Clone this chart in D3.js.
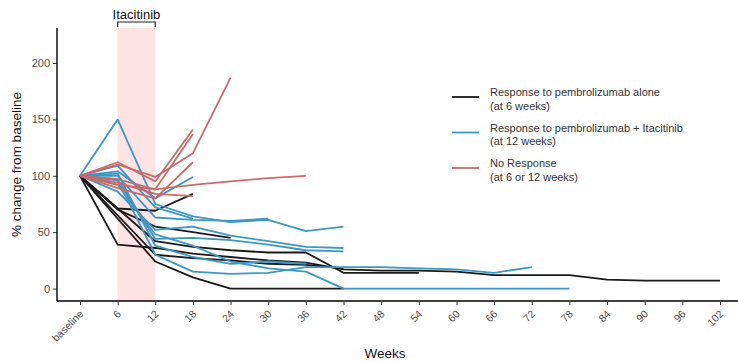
<!DOCTYPE html>
<html>
<head>
<meta charset="utf-8">
<script src="https://cdn.jsdelivr.net/npm/d3@7"></script>
<style>
  body { margin: 0; background: #fff; }
  svg { font-family: "Liberation Sans", Arial, sans-serif; }
</style>
</head>
<body>
<svg id="chart" width="738" height="362"></svg>
<script>
// weeks on the x axis, one tick every 6 weeks
const weekTicks = d3.range(0, 103, 6);
const weekLabels = weekTicks.map(w => w === 0 ? 'baseline' : String(w));
const yTicks = [0, 50, 100, 150, 200];

// one array per patient: [week, % of baseline]
const pembroAlone = [
  [[0,100],[6,71],[12,69],[18,84]],
  [[0,100],[6,70],[12,55],[18,50],[24,45]],
  [[0,100],[12,42],[18,37],[24,34],[30,32],[36,32],[42,14],[48,14],[54,14]],
  [[0,100],[6,39],[12,36],[18,31],[24,28],[30,25],[36,23],[42,17],[48,16],[54,16],[60,15],[66,12],[72,12],[78,12],[84,8],[90,7],[96,7],[102,7]],
  [[0,100],[12,24],[18,10],[24,0],[30,0],[36,0],[42,0]],
  [[0,100],[12,30],[18,27],[24,25],[30,22],[36,21],[42,18]]
];

const pembroIta = [
  [[0,100],[6,150],[12,75],[18,64],[24,59],[30,61],[36,51],[42,55]],
  [[0,100],[6,104],[12,80],[18,99]],
  [[0,100],[6,96],[12,30],[18,15],[24,13],[30,14],[36,19],[42,19],[48,19],[54,18],[60,17],[66,14],[72,19]],
  [[0,100],[6,92],[12,48],[18,38],[24,24],[30,18],[36,15],[42,0],[48,0],[54,0],[60,0],[66,0],[72,0],[78,0]],
  [[0,100],[6,86],[12,52],[18,55],[24,47],[30,42],[36,37],[42,36]],
  [[0,100],[6,97],[12,44],[18,45],[24,43],[30,39],[36,34],[42,33]],
  [[0,100],[6,100],[12,63],[18,61],[24,60],[30,62]],
  [[0,100],[6,102],[12,38],[18,28],[24,22],[30,24],[36,22]],
  [[0,100],[6,109],[12,72],[18,62]]
];

const noResponse = [
  [[0,100],[6,110],[12,99],[18,120],[24,187]],
  [[0,100],[6,112],[12,95],[18,141]],
  [[0,100],[6,97],[12,88],[18,137]],
  [[0,100],[6,92],[12,88],[18,92],[24,95],[30,98],[36,100]],
  [[0,100],[6,94],[12,84],[18,82]],
  [[0,100],[6,89],[12,80],[18,112]]
];

const groups = [
  { name: 'Response to pembrolizumab alone', sub: '(at 6 weeks)', color: '#1a1a1a', data: pembroAlone },
  { name: 'Response to pembrolizumab + Itacitinib', sub: '(at 12 weeks)', color: '#3b97c4', data: pembroIta },
  { name: 'No Response', sub: '(at 6 or 12 weeks)', color: '#c96b6b', data: noResponse }
];

const svg = d3.select('#chart');
const plotLeft = 57, plotRight = 738, plotTop = 28, plotBottom = 301;

const x = d3.scaleLinear().domain([0, 102]).range([80, 720]);
const y = d3.scaleLinear().domain([-11, 231]).range([plotBottom, plotTop]);

// itacitinib window
svg.append('rect')
  .attr('x', x(6)).attr('y', plotTop)
  .attr('width', x(12) - x(6)).attr('height', plotBottom - plotTop)
  .attr('fill', '#fde3e3');

svg.append('path')
  .attr('d', `M${x(6)},27V22H${x(12)}V27`)
  .attr('fill', 'none').attr('stroke', '#222').attr('stroke-width', 1.2);
svg.append('text')
  .attr('x', (x(6) + x(12)) / 2).attr('y', 19)
  .attr('text-anchor', 'middle').attr('font-size', 13).attr('fill', '#111')
  .text('Itacitinib');

// patient lines
const line = d3.line().x(d => x(d[0])).y(d => y(d[1]));
groups.forEach(g => {
  svg.append('g').selectAll('path')
    .data(g.data)
    .enter()
    .append('path')
    .attr('d', line)
    .attr('fill', 'none')
    .attr('stroke', g.color)
    .attr('stroke-width', 1.8)
    .attr('stroke-linejoin', 'round');
});

// axes
const xAxis = svg.append('g')
  .attr('transform', `translate(0,${plotBottom})`)
  .call(d3.axisBottom(x).tickValues(weekTicks).tickSize(4).tickFormat((d, i) => weekLabels[i]));
xAxis.select('.domain').attr('d', `M${plotLeft},0H${plotRight}`).attr('stroke', '#000').attr('stroke-width', 1.4);
xAxis.selectAll('.tick line').attr('stroke', '#333');
xAxis.selectAll('.tick text')
  .attr('fill', '#4d4d4d').attr('font-size', 10.5)
  .attr('text-anchor', 'end')
  .attr('x', 0).attr('y', 0).attr('dy', '0.35em')
  .attr('transform', 'translate(1,11) rotate(-45)');

const yAxis = svg.append('g')
  .attr('transform', `translate(${plotLeft},0)`)
  .call(d3.axisLeft(y).tickValues(yTicks).tickSize(4));
yAxis.select('.domain').attr('d', `M0,${plotTop}V${plotBottom}`).attr('stroke', '#000').attr('stroke-width', 1.4);
yAxis.selectAll('.tick line').attr('stroke', '#333');
yAxis.selectAll('.tick text').attr('fill', '#4d4d4d').attr('font-size', 11);

svg.append('text')
  .attr('x', 385).attr('y', 358)
  .attr('text-anchor', 'middle').attr('font-size', 13.5).attr('fill', '#111')
  .text('Weeks');
svg.append('text')
  .attr('transform', `translate(21,${(plotTop + plotBottom) / 2}) rotate(-90)`)
  .attr('text-anchor', 'middle').attr('font-size', 13.5).attr('fill', '#111')
  .text('% change from baseline');

// legend
const legend = svg.append('g').attr('transform', 'translate(452,97)');
groups.forEach((g, i) => {
  const row = legend.append('g').attr('transform', `translate(0,${i * 35.5})`);
  row.append('line').attr('x1', 0).attr('x2', 27).attr('y1', 0).attr('y2', 0)
    .attr('stroke', g.color).attr('stroke-width', 1.8);
  row.append('text').attr('x', 38).attr('y', -1).attr('font-size', 11).attr('fill', '#333').text(g.name);
  row.append('text').attr('x', 38).attr('y', 12.5).attr('font-size', 11).attr('fill', '#333').text(g.sub);
});
</script>
</body>
</html>
